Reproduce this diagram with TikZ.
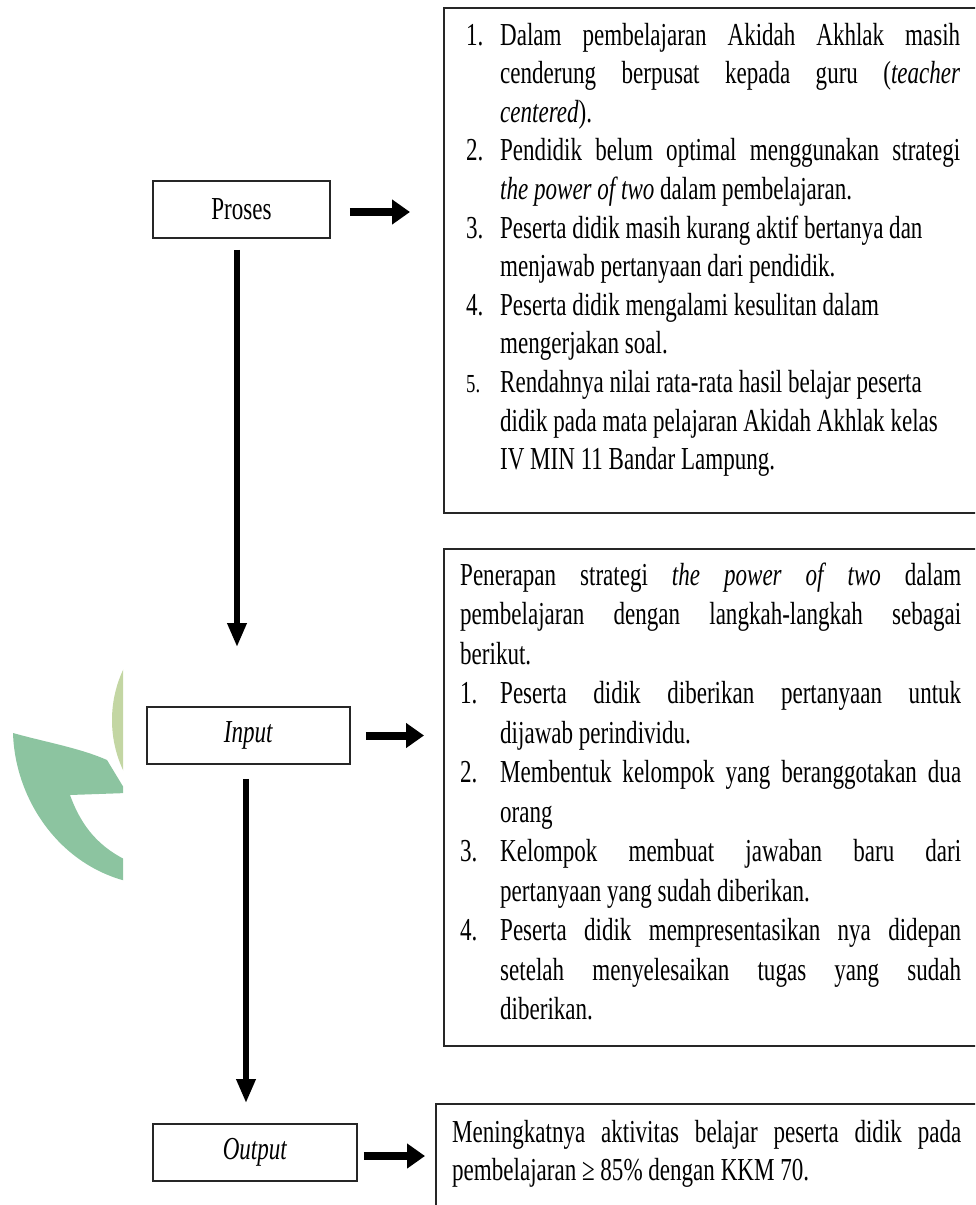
\documentclass[tikz,border=0pt]{standalone}
\usepackage{fontspec}
\setmainfont{Liberation Serif}[FakeStretch=0.72]
\usetikzlibrary{arrows.meta,calc}
\definecolor{wmgreen}{HTML}{8CC4A0}
\definecolor{wmolive}{HTML}{C3D6A3}
\definecolor{boxline}{HTML}{262626}
\newcommand\jl[2]{\makebox[#1][s]{#2}}
\newcommand\nb[2]{\makebox[#1][l]{#2}}
\begin{document}
\begin{tikzpicture}[x=1pt,y=-1pt,
  font=\fontsize{32}{38.6}\selectfont,
  lbox/.style={draw=boxline,line width=1.6pt,rectangle,minimum height=57pt,inner sep=0pt},
  tbox/.style={draw=boxline,line width=1.6pt,rectangle,anchor=north west,inner sep=0pt},
  txt/.style={anchor=base west,inner sep=0pt},
  harrow/.style={line width=8pt,-{Triangle[length=18pt,width=24pt]}},
  varrow/.style={line width=6pt,-{Triangle[length=24pt,width=18pt]}}]
\useasboundingbox (0,0) rectangle (975,1205);
\clip (0,0) rectangle (975,1205);
% watermark
\begin{scope}
  \clip (0,600) rectangle (123,900);
  \fill[wmolive] (231,720) circle (119);
  \fill[wmgreen] (13,733) .. controls (45,742) and (80,748) .. (107,760)
    -- (127,793) -- (70,795) .. controls (82,828) and (100,848) .. (130,862)
    -- (130,882) .. controls (60,866) and (15,800) .. (13,733) -- cycle;
\end{scope}
% left boxes
\node[lbox,minimum width=177pt] (proses) at (241.5,209.5) {Proses};
\node[lbox,minimum width=203pt] (input) at (248.5,735.5) {\textit{Input}};
\node[lbox,minimum width=204pt] (output) at (255,1152.5) {\textit{Output}};
% right boxes
\node[tbox,minimum width=560pt,minimum height=505pt] (pb) at (443,7) {};
\node[tbox,minimum width=560pt,minimum height=497pt] (ib) at (443,548) {};
\node[tbox,minimum width=570pt,minimum height=130pt] (ob) at (435,1103) {};
% texts
\node[txt] (pbt) at (466,45) {\parbox[t]{500pt}{\fontsize{32}{38.6}\selectfont
\nb{34pt}{1.}\jl{460pt}{Dalam pembelajaran Akidah Akhlak masih}\\
\hspace*{34pt}\jl{460pt}{cenderung berpusat kepada guru (\textit{teacher}}\\
\hspace*{34pt}\textit{centered}).\\
\nb{34pt}{2.}\jl{460pt}{Pendidik belum optimal menggunakan strategi}\\
\hspace*{34pt}\textit{the power of two} dalam pembelajaran.\\
\nb{34pt}{3.}Peserta didik masih kurang aktif bertanya dan\\
\hspace*{34pt}menjawab pertanyaan dari pendidik.\\
\nb{34pt}{4.}Peserta didik mengalami kesulitan dalam\\
\hspace*{34pt}mengerjakan soal.\\
\nb{34pt}{{\fontsize{26}{38.6}\selectfont 5.}}Rendahnya nilai rata-rata hasil belajar peserta\\
\hspace*{34pt}didik pada mata pelajaran Akidah Akhlak kelas\\
\hspace*{34pt}IV MIN 11 Bandar Lampung.}};
\node[txt] (ibt) at (460,585) {\parbox[t]{510pt}{\fontsize{32}{39.5}\selectfont
\jl{501pt}{Penerapan strategi \textit{the power of two} dalam}\\
\jl{501pt}{pembelajaran dengan langkah-langkah sebagai}\\
berikut.\\
\nb{40pt}{1.}\jl{461pt}{Peserta didik diberikan pertanyaan untuk}\\
\hspace*{40pt}dijawab perindividu.\\
\nb{40pt}{2.}\jl{461pt}{Membentuk kelompok yang beranggotakan dua}\\
\hspace*{40pt}orang\\
\nb{40pt}{3.}\jl{461pt}{Kelompok membuat jawaban baru dari}\\
\hspace*{40pt}pertanyaan yang sudah diberikan.\\
\nb{40pt}{4.}\jl{461pt}{Peserta didik mempresentasikan nya didepan}\\
\hspace*{40pt}\jl{461pt}{setelah menyelesaikan tugas yang sudah}\\
\hspace*{40pt}diberikan.}};
\node[txt] (obt) at (452,1142) {\parbox[t]{515pt}{\fontsize{32}{38}\selectfont
\jl{509pt}{Meningkatnya aktivitas belajar peserta didik pada}\\
pembelajaran ≥ 85\% dengan KKM 70.}};
% connectors
\draw[harrow,shorten <=19pt,shorten >=33pt] ([yshift=-2.5pt]proses.east) -- ([yshift=-2.5pt]proses.east -| pb.west);
\draw[harrow,shorten <=15pt,shorten >=19pt] (input.east) -- (input.east -| ib.west);
\draw[harrow,shorten <=6pt,shorten >=10pt] ([yshift=-3.5pt]output.east) -- ([yshift=-3.5pt]output.east -| ob.west);
\draw[varrow,shorten <=11pt,shorten >=59pt] ([xshift=-4.5pt]proses.south) -- ([xshift=-4.5pt]proses.south |- input.north);
\draw[varrow,shorten <=14pt,shorten >=20pt] ([xshift=-2.5pt]input.south) -- ([xshift=-2.5pt]input.south |- output.north);
\end{tikzpicture}
\end{document}
